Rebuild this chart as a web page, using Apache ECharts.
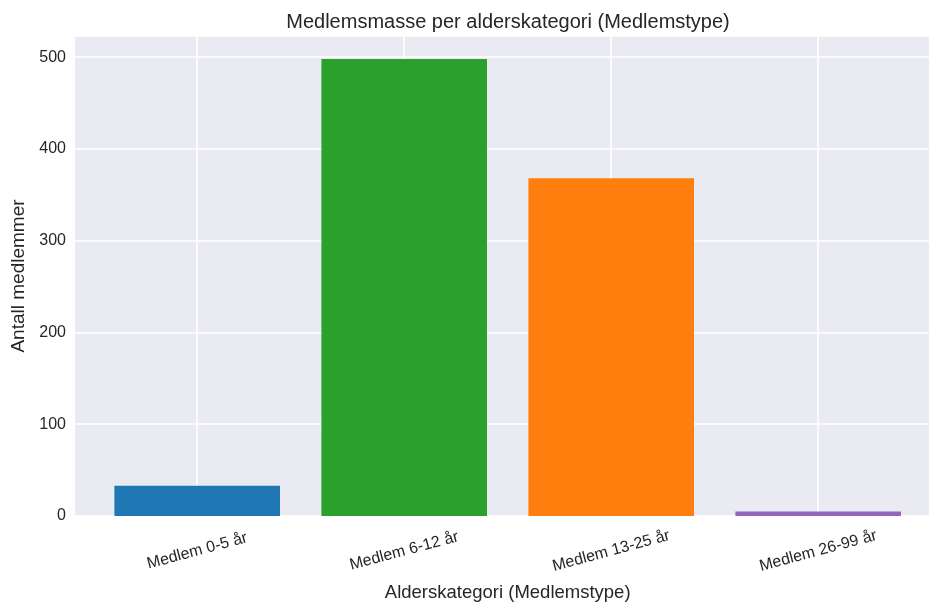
<!DOCTYPE html>
<html>
<head>
<meta charset="utf-8">
<script src="https://cdn.jsdelivr.net/npm/echarts@6/dist/echarts.min.js"></script>
<style>html,body{margin:0;padding:0;background:#fff}#c{width:929px;height:610px}</style>
</head>
<body>
<div id="c"></div>
<script>
const categories = ['Medlem 0-5 år', 'Medlem 6-12 år', 'Medlem 13-25 år', 'Medlem 26-99 år'];
const values = [33, 498, 368, 5];
const barColors = ['#1f77b4', '#2ca02c', '#ff7f0e', '#9467bd'];
const yTicks = [0, 100, 200, 300, 400, 500];
const titleText = 'Medlemsmasse per alderskategori (Medlemstype)';
const xName = 'Alderskategori (Medlemstype)';
const yName = 'Antall medlemmer';

const FONT = "'Liberation Sans', Arial, sans-serif";
const TXT = '#262626';
const chart = echarts.init(document.getElementById('c'), null, {renderer: 'canvas'});
const yMax = 523;
chart.setOption({
  animation: false,
  backgroundColor: '#ffffff',
  title: {
    text: titleText, left: 503, top: 7, textAlign: 'center',
    textStyle: {fontFamily: FONT, fontSize: 20, fontWeight: 'normal', color: TXT}
  },
  grid: [
    {left: 75, top: 36, width: 866, height: 480, show: true, backgroundColor: '#eaeaf2', borderWidth: 0},
    {left: 93.7, top: 36, width: 828, height: 480}
  ],
  xAxis: [
    {gridIndex: 0, type: 'value', min: 0, max: 1, show: false},
    {
      gridIndex: 1, type: 'category', data: categories, boundaryGap: true,
      name: xName, nameLocation: 'middle', nameGap: 77,
      nameTextStyle: {fontFamily: FONT, fontSize: 18.5, color: TXT, verticalAlign: 'middle'},
      axisLine: {show: false}, axisTick: {show: false, alignWithLabel: true},
      splitLine: {show: true, alignWithLabel: true, lineStyle: {color: '#ffffff', width: 1.6}},
      axisLabel: {rotate: 15, align: 'center', verticalAlign: 'middle', margin: 35,
        fontFamily: FONT, fontSize: 16, color: TXT}
    }
  ],
  yAxis: [
    {
      gridIndex: 0, type: 'value', min: 0, max: yMax, interval: 100,
      name: yName, nameLocation: 'middle', nameGap: 56, nameRotate: 90,
      nameTextStyle: {fontFamily: FONT, fontSize: 19, color: TXT, verticalAlign: 'middle'},
      axisLine: {show: false}, axisTick: {show: false},
      splitLine: {show: true, lineStyle: {color: '#ffffff', width: 1.6}},
      axisLabel: {margin: 9, fontFamily: FONT, fontSize: 16, color: TXT,
        formatter: v => (yTicks.indexOf(v) >= 0 ? String(v) : '')}
    },
    {gridIndex: 1, type: 'value', min: 0, max: yMax, show: false}
  ],
  series: [{
    type: 'bar', xAxisIndex: 1, yAxisIndex: 1, barWidth: '80%', z: 5,
    data: values.map((v, i) => ({value: v, itemStyle: {color: barColors[i]}}))
  }]
});
</script>
</body>
</html>
